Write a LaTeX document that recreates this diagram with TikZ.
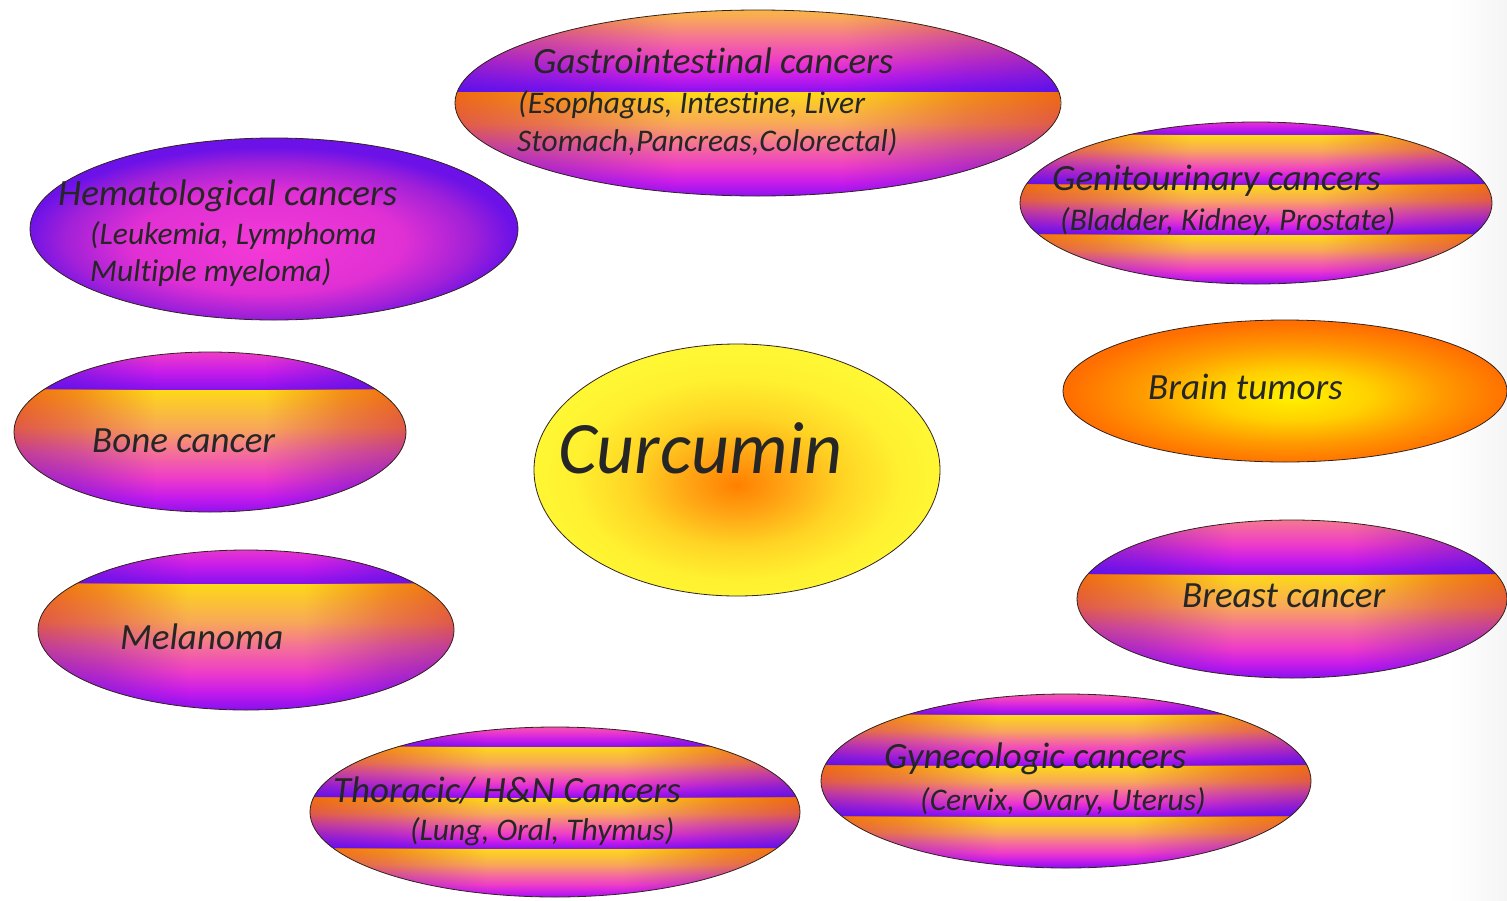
\documentclass[tikz,border=0pt]{standalone}
\usepackage{fontspec}
\setmainfont{Carlito}[Ligatures={NoCommon}]
\usetikzlibrary{fadings}

\definecolor{txtc}{RGB}{38,38,38}
\definecolor{edgec}{RGB}{50,35,30}
% centre palette of a band (top -> bottom)
\definecolor{cA}{HTML}{FDD818}
\definecolor{cB}{HTML}{F8A858}
\definecolor{cC}{HTML}{F47098}
\definecolor{cD}{HTML}{EE3CC8}
\definecolor{cE}{HTML}{C81CEA}
\definecolor{cF}{HTML}{8610F0}
% edge palette of a band (top -> bottom)
\definecolor{eA}{HTML}{F06A10}
\definecolor{eB}{HTML}{E05A48}
\definecolor{eC}{HTML}{C03C98}
\definecolor{eD}{HTML}{9A22C4}
\definecolor{eE}{HTML}{7A18DC}
\definecolor{eF}{HTML}{5A10EC}
% radial palettes
\definecolor{hmC}{HTML}{F43AD6}
\definecolor{hmM}{HTML}{E030D4}
\definecolor{hmN}{HTML}{A020D8}
\definecolor{hmO}{HTML}{6C12E8}
\definecolor{brA}{HTML}{FFF200}
\definecolor{brB}{HTML}{FFD000}
\definecolor{brC}{HTML}{FF9A00}
\definecolor{brD}{HTML}{FF6E00}
\definecolor{cuA}{HTML}{FF8000}
\definecolor{cuB}{HTML}{FFA414}
\definecolor{cuC}{HTML}{FFD424}
\definecolor{cuD}{HTML}{FFF030}
\definecolor{cuE}{HTML}{FFF733}

\pgfdeclareverticalshading{bandC}{100bp}{color(0bp)=(cF); color(25bp)=(cF); color(32.5bp)=(cE); color(40bp)=(cD); color(50bp)=(cC); color(60bp)=(cB); color(75bp)=(cA); color(100bp)=(cA)}
\pgfdeclareverticalshading{bandE}{100bp}{color(0bp)=(eF); color(25bp)=(eF); color(32.5bp)=(eE); color(40bp)=(eD); color(50bp)=(eC); color(60bp)=(eB); color(75bp)=(eA); color(100bp)=(eA)}
\pgfdeclarehorizontalshading{edgemask}{100bp}{color(0bp)=(white); color(25bp)=(white); color(33bp)=(white!65!black); color(43bp)=(black); color(57bp)=(black); color(67bp)=(white!65!black); color(75bp)=(white); color(100bp)=(white)}
\tikzfading[name=edgefade, shade, shading=edgemask]

\pgfdeclareradialshading{hemaS}{\pgfpoint{-1bp}{-5bp}}{color(0bp)=(hmC); color(14bp)=(hmM); color(21bp)=(hmN); color(25bp)=(hmO); color(50bp)=(hmO)}
\pgfdeclareradialshading{brainS}{\pgfpoint{1bp}{-2bp}}{color(0bp)=(brA); color(9bp)=(brB); color(17bp)=(brC); color(25bp)=(brD); color(50bp)=(brD)}
\pgfdeclareradialshading{curcS}{\pgfpoint{0bp}{-3bp}}{color(0bp)=(cuA); color(6bp)=(cuB); color(13bp)=(cuC); color(20bp)=(cuD); color(25bp)=(cuE); color(50bp)=(cuE)}

\tikzset{
  rim/.style={draw=edgec, line width=0.8pt},
  tx/.style={anchor=base west, inner sep=0pt, text=txtc},
  ttl/.style={tx, font=\fontsize{37}{44}\selectfont\itshape},
  sub/.style={tx, font=\fontsize{31.5}{38}\selectfont\itshape},
  big/.style={tx, font=\fontsize{74}{88}\selectfont\itshape},
}

% banded ellipse: cx, cy, rx, ry, line y, band height
\newcommand\bandell[6]{%
  \begin{scope}
    \clip (#1,#2) ellipse [x radius=#3, y radius=#4];
    \foreach \k in {-4,...,4}{%
      \pgfmathsetmacro\bt{#5+\k*#6}%
      \pgfmathsetmacro\bb{\bt+#6}%
      \path[shade, shading=bandC] (#1-#3,\bt) rectangle (#1+#3,\bb);
      \path[shade, shading=bandE, path fading=edgefade] (#1-#3,\bt) rectangle (#1+#3,\bb);
    }
  \end{scope}
  \path[rim] (#1,#2) ellipse [x radius=#3, y radius=#4];
}
% radially shaded ellipse: cx, cy, rx, ry, shading
\newcommand\radell[5]{%
  \path[shade, shading=#5] (#1,#2) ellipse [x radius=#3, y radius=#4];
  \path[rim] (#1,#2) ellipse [x radius=#3, y radius=#4];
}

\begin{document}
\begin{tikzpicture}[x=1pt, y=-1pt]
\path[use as bounding box, fill=white] (0,0) rectangle (1507,900);
\shade[left color=white, right color=black!4] (1450,0) rectangle (1507,900);

% ellipses
\bandell{758}{103}{303}{93}{92}{106}      % gastrointestinal
\radell{274}{229}{244}{91}{hemaS}          % hematological
\bandell{1256}{203}{236}{81}{135}{50}     % genitourinary
\radell{1285}{391}{222}{71}{brainS}        % brain
\bandell{210}{432}{196}{80}{390}{125}     % bone
\radell{737}{470}{203}{126}{curcS}         % curcumin
\bandell{246}{630}{208}{80}{584}{126}     % melanoma
\bandell{1292}{599}{215}{79}{575}{104}    % breast
\bandell{555}{812}{245}{85}{747}{51}      % thoracic
\bandell{1066}{781}{245}{87}{715}{51}     % gynecologic

% texts
\node[ttl] (gi)  at (533,73)  {Gastrointestinal cancers};
\node[sub] (gi1) at (518,113) {(Esophagus, Intestine, Liver};
\node[sub] (gi2) at (517,151) {Stomach,Pancreas,Colorectal)};
\node[ttl] (hm)  at (58,205)  {Hematological cancers};
\node[sub] (hm1) at (90,244)  {(Leukemia, Lymphoma};
\node[sub] (hm2) at (90,281)  {Multiple myeloma)};
\node[ttl] (gu)  at (1052,190) {Genitourinary cancers};
\node[sub] (gu1) at (1060,230) {(Bladder, Kidney, Prostate)};
\node[ttl] (br)  at (1148,399) {Brain tumors};
\node[ttl] (bo)  at (92,452)  {Bone cancer};
\node[big] (cu)  at (558,473) {Curcumin};
\node[ttl] (me)  at (120,649) {Melanoma};
\node[ttl] (bc)  at (1182,607) {Breast cancer};
\node[ttl] (th)  at (333,802) {Thoracic/ H\&N Cancers};
\node[sub] (th1) at (410,840) {(Lung, Oral, Thymus)};
\node[ttl] (gy)  at (884,768) {Gynecologic cancers};
\node[sub] (gy1) at (920,810) {(Cervix, Ovary, Uterus)};
\end{tikzpicture}
\end{document}
